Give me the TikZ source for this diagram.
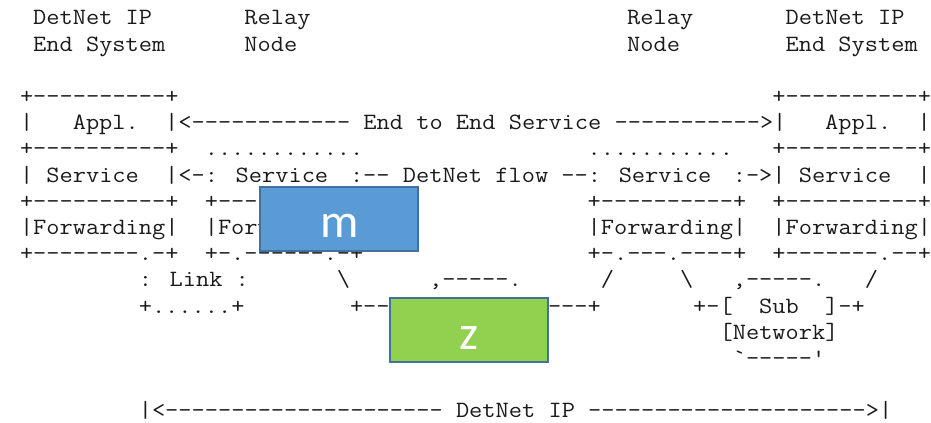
\documentclass[tikz,border=0pt]{standalone}
\usepackage{fontspec}
\newfontfamily\asc{Latin Modern Mono}[FakeStretch=1.1]
\newfontfamily\boxfont{Carlito}
\definecolor{mfill}{HTML}{5B9BD5}
\definecolor{zfill}{HTML}{92D050}
\definecolor{bordc}{HTML}{41719C}
\definecolor{inkc}{HTML}{1A1A1A}
\tikzset{
  txt/.style={anchor=base west, inner sep=0pt, outer sep=0pt, font=\asc\fontsize{17.5pt}{19pt}\selectfont, text=inkc},
  overbox/.style={draw=bordc, line width=1.6pt, inner sep=0pt, minimum width=118.5pt, minimum height=48pt},
  boxlbl/.style={anchor=base, inner sep=0pt, text=white, font=\boxfont\fontsize{36pt}{40pt}\selectfont},
}
\newcommand\seg[4]{\node[txt] (#1) at ({20+13.2*#2},{25+26.2*#3}) {#4};}
\begin{document}
\begin{tikzpicture}[x=0.75pt,y=-0.75pt]
\useasboundingbox (0,0) rectangle (931,423);
% row 0-1 headings
\seg{h1}{1}{0}{DetNet IP}
\seg{h2}{17}{0}{Relay}
\seg{h3}{46}{0}{Relay}
\seg{h4}{58}{0}{DetNet IP}
\seg{h5}{1}{1}{End System}
\seg{h6}{17}{1}{Node}
\seg{h7}{46}{1}{Node}
\seg{h8}{58}{1}{End System}
% row 3
\seg{a1}{0}{3}{+----------+}
\seg{a2}{57}{3}{+----------+}
% row 4
\seg{b1}{0}{4}{|}
\seg{b2}{4}{4}{Appl.}
\seg{b3}{11}{4}{|<------------ End to End Service ----------->|}
\seg{b4}{61}{4}{Appl.}
\seg{b5}{68}{4}{|}
% row 5
\seg{c1}{0}{5}{+----------+}
\seg{c2}{14}{5}{............}
\seg{c3}{43}{5}{...........}
\seg{c4}{57}{5}{+----------+}
% row 6
\seg{d1}{0}{6}{|}
\seg{d2}{2}{6}{Service}
\seg{d3}{11}{6}{|<-: Service}
\seg{d4}{25}{6}{:-- DetNet flow --: Service}
\seg{d5}{54}{6}{:->| Service}
\seg{d6}{68}{6}{|}
% row 7
\seg{e1}{0}{7}{+----------+}
\seg{e2}{14}{7}{+---}
\seg{e3}{43}{7}{+----------+}
\seg{e4}{57}{7}{+----------+}
% row 8
\seg{f1}{0}{8}{|Forwarding|}
\seg{f2}{14}{8}{|Forw}
\seg{f3}{43}{8}{|Forwarding|}
\seg{f4}{57}{8}{|Forwarding|}
% row 9
\seg{g1}{0}{9}{+--------.-+}
\seg{g2}{14}{9}{+-.------.-+}
\seg{g3}{43}{9}{+-.---.----+}
\seg{g4}{57}{9}{+-------.--+}
% row 10
\seg{k1}{9}{10}{: Link :}
\seg{k2}{24}{10}{\textbackslash}
\seg{k3}{31}{10}{,-----.}
\seg{k4}{44}{10}{/}
\seg{k5}{50}{10}{\textbackslash}
\seg{k6}{54}{10}{,-----.}
\seg{k7}{64}{10}{/}
% row 11
\seg{l1}{9}{11}{+......+}
\seg{l2}{25}{11}{+--}
\seg{l3}{40}{11}{---+}
\seg{l4}{51}{11}{+-[}
\seg{l5}{56}{11}{Sub}
\seg{l6}{61}{11}{]-+}
% row 12-13
\seg{n1}{53}{12}{[Network]}
\seg{o1}{54}{13}{\symbol{96}-----\symbol{39}}
% row 15
\seg{p1}{9}{15}{|<--------------------- DetNet IP --------------------->|}
% overlay boxes
\node[overbox, fill=mfill] (mbox) at (339,219) {};
\node[boxlbl] (mlbl) at (340,238) {m};
\node[overbox, fill=zfill] (zbox) at (469,330) {};
\node[boxlbl] (zlbl) at (468.5,350) {z};
\end{tikzpicture}
\end{document}
